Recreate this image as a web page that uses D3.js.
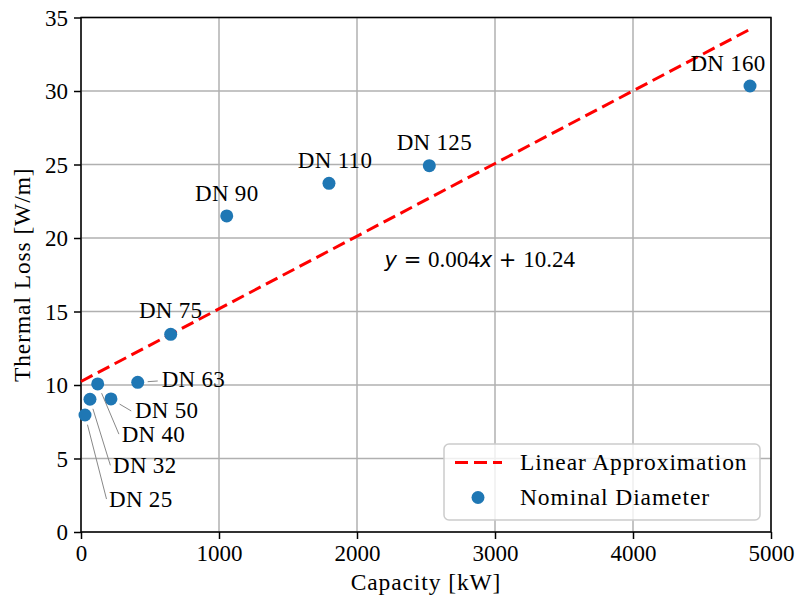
<!DOCTYPE html>
<html>
<head>
<meta charset="utf-8">
<script src="https://cdn.jsdelivr.net/npm/d3@7"></script>
<style>
  body { margin: 0; background: #fff; }
  svg text { font-family: "Liberation Serif", "Times New Roman", serif; fill: #000; }
</style>
</head>
<body>
<div id="chart"></div>
<script>
// values
var names = ["DN 25", "DN 32", "DN 40", "DN 50", "DN 63", "DN 75", "DN 90", "DN 110", "DN 125", "DN 160"];
var capacity = [29, 65, 121, 217, 411, 650, 1056, 1797, 2524, 4848];
var thermalLoss = [7.96, 9.03, 10.07, 9.05, 10.18, 13.45, 21.5, 23.72, 24.92, 30.34];

// linear approximation end points
var fitX = [0, 4848];
var fitY = [10.24, 34.2];

var xTicks = [0, 1000, 2000, 3000, 4000, 5000];
var yTicks = [0, 5, 10, 15, 20, 25, 30, 35];

// where each label sits relative to its point (px), lead = grey leader line
var labelPos = {
  "DN 25": {dx: 24, dy: 92, lead: true},
  "DN 32": {dx: 23, dy: 74, lead: true},
  "DN 40": {dx: 24, dy: 58, lead: true},
  "DN 50": {dx: 24, dy: 19, lead: true},
  "DN 63": {dx: 24, dy: 4.5, lead: true},
  "DN 75": {dx: 0, dy: -16},
  "DN 90": {dx: 0, dy: -14.5},
  "DN 110": {dx: 6, dy: -15},
  "DN 125": {dx: 5, dy: -15.5},
  "DN 160": {dx: -22, dy: -15}
};

var w = 797, h = 601;
var plotLeft = 81, plotRight = 771, plotTop = 17.5, plotBottom = 532;
var fs = 23;
var blue = "#1f77b4";

var xScale = d3.scaleLinear().domain([0, 5000]).range([plotLeft, plotRight]);
var yScale = d3.scaleLinear().domain([0, 35]).range([plotBottom, plotTop]);

var svg = d3.select("#chart").append("svg")
  .attr("width", w)
  .attr("height", h);

// grid
svg.append("g").selectAll("line")
  .data(xTicks).enter().append("line")
  .attr("x1", function(d) { return xScale(d); })
  .attr("x2", function(d) { return xScale(d); })
  .attr("y1", plotTop).attr("y2", plotBottom)
  .attr("stroke", "#b0b0b0").attr("stroke-width", 1.5);
svg.append("g").selectAll("line")
  .data(yTicks).enter().append("line")
  .attr("x1", plotLeft).attr("x2", plotRight)
  .attr("y1", function(d) { return yScale(d); })
  .attr("y2", function(d) { return yScale(d); })
  .attr("stroke", "#b0b0b0").attr("stroke-width", 1.5);

// axes
var xAxis = d3.axisBottom(xScale).tickValues(xTicks).tickSize(7).tickPadding(6).tickFormat(d3.format("d"));
var yAxis = d3.axisLeft(yScale).tickValues(yTicks).tickSize(7).tickPadding(6).tickFormat(d3.format("d"));

var gx = svg.append("g")
  .attr("transform", "translate(0," + plotBottom + ")")
  .call(xAxis);
var gy = svg.append("g")
  .attr("transform", "translate(" + plotLeft + ",0)")
  .call(yAxis);

[gx, gy].forEach(function(g) {
  g.select(".domain").remove();
  g.selectAll(".tick line").attr("stroke", "#000").attr("stroke-width", 1.5);
  g.selectAll(".tick text")
    .style("font-family", "'Liberation Serif', serif")
    .style("font-size", fs + "px")
    .attr("fill", "#000");
});
gx.selectAll(".tick text").attr("dy", null).attr("y", 29);
gy.selectAll(".tick text").attr("dy", "0.34em");

// frame
svg.append("rect")
  .attr("x", plotLeft).attr("y", plotTop)
  .attr("width", plotRight - plotLeft).attr("height", plotBottom - plotTop)
  .attr("fill", "none").attr("stroke", "#000").attr("stroke-width", 1.5);

// axis labels
svg.append("text")
  .attr("x", (plotLeft + plotRight) / 2).attr("y", 590)
  .attr("text-anchor", "middle")
  .style("font-size", "23.5px").style("letter-spacing", "0.9px")
  .text("Capacity [kW]");

svg.append("text")
  .attr("transform", "translate(30," + ((plotTop + plotBottom) / 2) + ") rotate(-90)")
  .attr("text-anchor", "middle")
  .style("font-size", "23.5px").style("letter-spacing", "0.9px")
  .text("Thermal Loss [W/m]");

// linear approximation
var line = d3.line()
  .x(function(d) { return xScale(d[0]); })
  .y(function(d) { return yScale(d[1]); });

svg.append("path")
  .attr("d", line(d3.zip(fitX, fitY)))
  .attr("fill", "none")
  .attr("stroke", "red")
  .attr("stroke-width", 3)
  .attr("stroke-dasharray", "13,6");

// points
var points = names.map(function(n, i) {
  return {name: n, x: capacity[i], y: thermalLoss[i]};
});

svg.selectAll("circle.pt")
  .data(points).enter().append("circle")
  .attr("class", "pt")
  .attr("cx", function(d) { return xScale(d.x); })
  .attr("cy", function(d) { return yScale(d.y); })
  .attr("r", 6.5)
  .attr("fill", blue);

// leader lines
points.forEach(function(d) {
  var p = labelPos[d.name];
  if (!p.lead) return;
  var px = xScale(d.x), py = yScale(d.y);
  var ax = px + p.dx - 2, ay = py + p.dy - 6;
  var vx = ax - px, vy = ay - py;
  var len = Math.sqrt(vx * vx + vy * vy);
  var ux = vx / len, uy = vy / len;
  svg.append("line")
    .attr("x1", px + ux * 10).attr("y1", py + uy * 10)
    .attr("x2", ax - ux * 2).attr("y2", ay - uy * 2)
    .attr("stroke", "#888").attr("stroke-width", 1);
});

// point labels
svg.selectAll("text.lbl")
  .data(points).enter().append("text")
  .attr("class", "lbl")
  .attr("x", function(d) { return xScale(d.x) + labelPos[d.name].dx; })
  .attr("y", function(d) { return yScale(d.y) + labelPos[d.name].dy; })
  .attr("text-anchor", function(d) { return labelPos[d.name].lead ? "start" : "middle"; })
  .style("font-size", fs + "px").style("letter-spacing", "0.3px")
  .text(function(d) { return d.name; });

// equation
var eq = svg.append("text")
  .attr("x", xScale(2200)).attr("y", yScale(18))
  .style("font-size", fs + "px");
eq.append("tspan").style("font-family", "'DejaVu Sans', sans-serif").style("font-style", "italic").style("font-size", "21px").text("y");
eq.append("tspan").style("font-family", "'DejaVu Sans', sans-serif").style("font-size", "21px").text(" = ");
eq.append("tspan").text("0.004");
eq.append("tspan").style("font-family", "'DejaVu Sans', sans-serif").style("font-style", "italic").style("font-size", "21px").text("x");
eq.append("tspan").style("font-family", "'DejaVu Sans', sans-serif").style("font-size", "21px").text(" + ");
eq.append("tspan").text("10.24");

// legend
var lg = svg.append("g");
lg.append("rect")
  .attr("x", 444).attr("y", 444)
  .attr("width", 316).attr("height", 76)
  .attr("rx", 5)
  .attr("fill", "#fff").attr("fill-opacity", 0.8)
  .attr("stroke", "#cccccc").attr("stroke-width", 1.5);
lg.append("line")
  .attr("x1", 455).attr("x2", 502)
  .attr("y1", 462.5).attr("y2", 462.5)
  .attr("stroke", "red").attr("stroke-width", 3)
  .attr("stroke-dasharray", "13,6");
lg.append("circle")
  .attr("cx", 478).attr("cy", 497.5).attr("r", 6.5)
  .attr("fill", blue);
lg.append("text").attr("x", 520).attr("y", 470)
  .style("font-size", "23.5px").style("letter-spacing", "0.9px").text("Linear Approximation");
lg.append("text").attr("x", 520).attr("y", 505)
  .style("font-size", "23.5px").style("letter-spacing", "0.9px").text("Nominal Diameter");
</script>
</body>
</html>
